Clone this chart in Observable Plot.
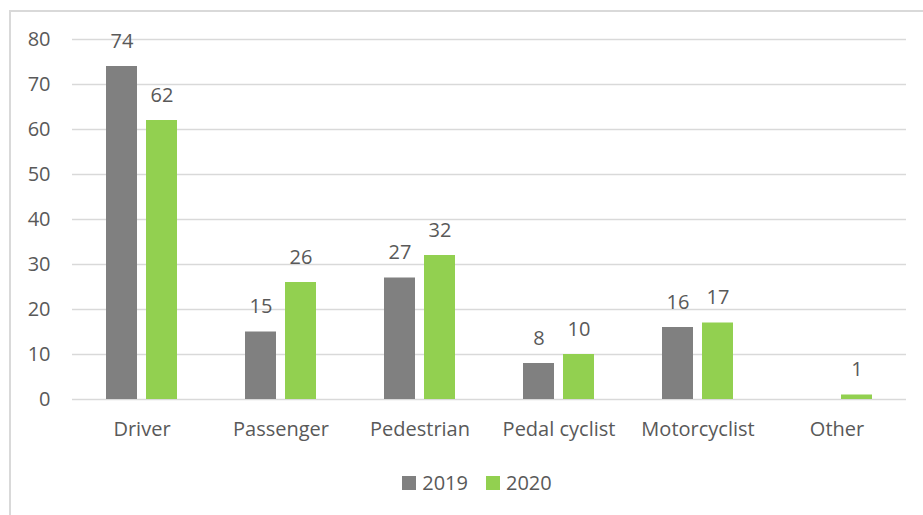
<!DOCTYPE html>
<html>
<head>
<meta charset="utf-8">
<script src="https://cdn.jsdelivr.net/npm/d3@7"></script>
<script src="https://cdn.jsdelivr.net/npm/@observablehq/plot@0.6"></script>
<style>
  html, body { margin: 0; padding: 0; background: #fff; overflow: hidden; }
  #wrap { position: relative; width: 923px; height: 515px; font-family: "Open Sans", sans-serif; }
  #border { position: absolute; left: 9px; top: 10px; width: 940px; height: 540px; border: 2px solid #d9d9d9; box-sizing: border-box; }
  #chart { position: absolute; left: 0; top: 0; }
  #legend { position: absolute; left: 0; width: 954px; top: 469px; display: flex; justify-content: center; gap: 18px; font-size: 20px; color: #595959; }
  #legend span.item { display: flex; align-items: center; }
  #legend span.sw { display: inline-block; width: 14px; height: 14px; margin-right: 6px; }
</style>
</head>
<body>
<div id="wrap">
  <div id="border"></div>
  <div id="chart"></div>
  <div id="legend"></div>
</div>
<script>
const categories = ["Driver", "Passenger", "Pedestrian", "Pedal cyclist", "Motorcyclist", "Other"];
const years = ["2019", "2020"];
const values2019 = [74, 15, 27, 8, 16, null];
const values2020 = [62, 26, 32, 10, 17, 1];
const yTicks = [0, 10, 20, 30, 40, 50, 60, 70, 80];
const colors = ["#808080", "#92D050"];

const data = [];
categories.forEach((c, i) => {
  if (values2019[i] != null) data.push({category: c, year: years[0], value: values2019[i]});
  if (values2020[i] != null) data.push({category: c, year: years[1], value: values2020[i]});
});

const width = 923, height = 515;
const mL = 72, mR = 17;
const step = (width - mL - mR) / categories.length;
const barW = 31, offset = 20;
const inset = (step - barW) / 2;

const textColor = "#595959";
const font = "Open Sans, sans-serif";

const marks = [
  Plot.ruleY(yTicks, {stroke: "#d9d9d9", strokeWidth: 1.5}),
  ...years.map((yr, k) => Plot.barY(data.filter(d => d.year === yr), {
    x: "category", y: "value", fill: colors[k],
    insetLeft: inset, insetRight: inset, dx: k === 0 ? -offset : offset
  })),
  ...years.map((yr, k) => Plot.text(data.filter(d => d.year === yr), {
    x: "category", y: "value", text: d => String(d.value),
    dx: k === 0 ? -offset : offset, dy: -19, lineAnchor: "bottom",
    fill: textColor, fontSize: 20
  })),
  Plot.axisY(yTicks, {tickSize: 0, tickPadding: 22, fontSize: 20, color: textColor, anchor: "left"}),
  Plot.axisX({tickSize: 0, tickPadding: 22, fontSize: 20, color: textColor, label: null})
];

const chart = Plot.plot({
  width, height,
  marginLeft: mL, marginRight: mR, marginTop: 39, marginBottom: 116,
  style: {fontFamily: font, color: textColor, background: "transparent", overflow: "visible"},
  x: {type: "band", domain: categories, padding: 0, label: null},
  y: {domain: [0, 80], label: null},
  marks
});
document.getElementById("chart").appendChild(chart);

const legend = document.getElementById("legend");
years.forEach((yr, k) => {
  const item = document.createElement("span");
  item.className = "item";
  const sw = document.createElement("span");
  sw.className = "sw";
  sw.style.background = colors[k];
  item.appendChild(sw);
  item.appendChild(document.createTextNode(yr));
  legend.appendChild(item);
});
</script>
</body>
</html>
